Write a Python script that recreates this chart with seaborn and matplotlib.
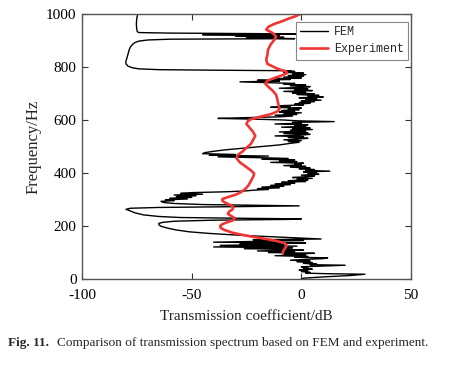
import matplotlib
matplotlib.use("Agg")
import matplotlib.pyplot as plt
import seaborn as sns

# FEM simulation: frequency (Hz) vs transmission coefficient (dB)
fem_freq = [0, 3, 8, 13, 18, 20, 22, 25, 28, 31, 34, 37, 40, 43, 46, 49, 52, 54, 56, 59,
            62, 65, 68, 71, 74, 77, 80, 82, 85, 88, 91, 94, 97, 100, 103, 106, 109, 112, 115, 118,
            121, 124, 127, 130, 133, 136, 139, 142, 145, 148, 151,
            155, 160, 166, 172, 178, 185, 192, 199, 205, 210, 214, 218, 222, 225, 227, 229, 232, 236, 242,
            250, 257, 263, 267, 270, 273, 276, 278, 281, 285, 289, 293, 296, 299, 302, 305, 308, 311, 314, 317,
            320, 323, 326, 329, 332, 335, 338, 341, 344, 347, 350, 353, 356, 359, 362, 365, 368, 371, 374, 377,
            380, 383, 386, 389, 392, 395, 398, 401, 404, 407, 410, 413, 416, 419, 422, 425, 428, 431, 434, 437,
            440, 443, 446, 449, 452, 455, 458, 461, 464, 467, 470, 473, 477, 482, 488, 494, 500, 506, 512, 516,
            519, 522, 525, 528, 531, 534, 537, 540, 543, 546, 549, 552, 555, 558, 561, 564, 567, 570, 573, 576,
            579, 582, 585, 588, 591, 594, 597, 600, 603, 606, 609, 612, 615, 618, 621, 624, 627, 630, 633, 636,
            639, 642, 645, 648, 651, 654, 657, 660, 663, 666, 669, 672, 675, 678, 681, 684, 687, 690, 693, 696,
            699, 702, 705, 708, 711, 714, 717, 720, 723, 726, 729, 732, 735, 738, 741, 744, 747, 750, 753, 756,
            759, 762, 765, 768, 771, 774, 777, 780, 783, 786, 788, 790, 793, 797, 803, 812, 822, 835, 850, 865,
            875, 885, 892, 898, 902, 905, 906, 907, 910, 913, 916, 919, 922, 924, 926, 928, 930, 933, 940, 955,
            970, 985, 1000]
fem_db = [0, 1, 10, 22, 29, 12, 2, 4, 0, 3, -1, 5, 1, 3, 0, 10, 20, 4, 7, 1,
          5, -2, 4, -5, 2, 10, 12, -3, 3, -12, 2, -8, 6, -15, -3, -20, 1, -10, -26, -4,
          -40, -2, -37, -8, -28, 2, -40, -18, 1, -22, 9,
          -2, -15, -30, -42, -51, -57, -61, -64, -65, -65, -63, -58, -40, -5, 0, -25, -55, -65, -72,
          -76, -78, -80, -78, -65, -30, -1, -20, -45, -58, -63, -64, -58, -62, -52, -60, -50, -57, -48, -58,
          -45, -55, -50, -35, -26, -22, -15, -20, -10, -18, -8, -14, -5, -12, -3, -9, 2, -6, 3, -2,
          5, -4, 2, 6, 0, 8, 3, 7, 1, 13, 2, 6, -1, 4, -5, 2, -8, 0, -3, 1,
          -14, -2, -10, -3, -18, -6, -20, -38, -15, -42, -30, -45, -44, -40, -34, -26, -18, -10, -5, -1,
          -6, 0, -8, -2, 3, -6, 1, -12, 0, 4, -8, 3, -10, 2, -5, 5, -4, 4, -9, 2,
          -3, 3, -12, 0, -4, 15, -2, -8, -20, -38, -25, -10, -4, -12, -2, -8, 0, -10, -3, -9,
          -1, -6, 0, -14, -5, -10, 1, -3, 4, -1, 6, 0, 9, 2, 7, -1, 10, 3, 8, -2,
          6, -4, 2, -8, 5, -3, 3, -10, 0, 4, -5, 2, -8, -3, -15, -28, -10, -20, -5, -12,
          0, -8, 1, -6, 2, -4, 1, -8, -3, -5, -40, -65, -74, -77, -79, -80, -80, -79.5, -79, -78.5,
          -78, -77, -76, -74, -70, -60, -30, -3, -25, -8, -30, -10, -45, 2, -20, -60, -74, -74.8, -75, -75.2,
          -75.2, -75, -74.6]

# Experiment: frequency (Hz) vs transmission coefficient (dB)
exp_freq = [97, 105, 115, 122, 128, 135, 145, 155, 165, 175, 185, 193, 200, 207, 215, 222, 230, 238, 246, 254,
            262, 270, 278, 287, 295, 302, 309, 318, 328, 340, 355, 370, 385, 398, 410, 425, 440, 455, 468, 480,
            495, 510, 525, 540, 555, 570, 585, 595, 603, 612, 622, 632, 642, 660, 680, 695, 710, 725, 738, 748,
            758, 768, 777, 784, 792, 802, 812, 828, 845, 865, 885, 903, 915, 928, 941, 952, 962, 972, 982, 992,
            1000]
exp_db = [-8.5, -8.3, -7.5, -6.9, -6.8, -7.5, -12, -19, -26, -31.5, -35, -36.8, -37, -36, -33.5, -31, -30.5, -32, -33.5, -33,
          -31.5, -31, -32, -34.5, -36, -36, -33.5, -30, -27.5, -25.5, -24, -23, -22, -21.5, -23, -25.5, -28, -29.5, -29, -27,
          -25, -23, -22, -21, -22, -23.5, -25, -24.5, -23, -19, -14, -11, -10, -10.5, -11, -11.5, -13, -15, -16.5, -15.5,
          -12.5, -9, -6.5, -7, -10.5, -13, -15.5, -16, -15.5, -15.2, -14, -12.3, -11.5, -13, -16, -15, -12.5, -9, -6, -2.5,
          -0.5]

sns.set_style("ticks")
plt.rcParams["font.family"] = ["Liberation Serif", "DejaVu Serif"]
plt.rcParams["axes.unicode_minus"] = False

fig = plt.figure(figsize=(4.61, 3.65), dpi=100)
ax = fig.add_axes([0.178, 0.2356, 0.7135, 0.726])

sns.lineplot(x=fem_db, y=fem_freq, sort=False, estimator=None, color="black",
             linewidth=1.0, label="FEM", ax=ax)
sns.lineplot(x=exp_db, y=exp_freq, sort=False, estimator=None, color="#f03535",
             linewidth=1.9, label="Experiment", ax=ax)

ax.set_xlim(-100, 50)
ax.set_ylim(0, 1000)
ax.set_xticks([-100, -50, 0, 50])
ax.set_yticks([0, 200, 400, 600, 800, 1000])
ax.tick_params(direction="in", length=4, width=0.8, colors="#333333", labelsize=11,
               top=True, right=True, labelcolor="black")
ax.tick_params(axis="y", pad=4)
ax.tick_params(axis="x", pad=7)
for s in ax.spines.values():
    s.set_color("#555555")
    s.set_linewidth(1.0)

ax.set_xlabel("Transmission coefficient/dB", fontsize=11, labelpad=6)
ax.set_ylabel("Frequency/Hz", fontsize=12, labelpad=3)

leg = ax.legend(loc="upper right", bbox_to_anchor=(0.992, 0.97), borderaxespad=0,
                fancybox=False, framealpha=1, edgecolor="#888888",
                prop={"family": "Liberation Mono", "size": 8.5},
                handlelength=2.4, handletextpad=0.5, borderpad=0.35, labelspacing=0.45)
leg.get_frame().set_linewidth(0.8)

fig.text(0.017, 0.06, "Fig. 11.", fontsize=9.5, fontweight="bold", va="center",
         family=["Liberation Serif", "DejaVu Serif"])
fig.text(0.124, 0.06, "Comparison of transmission spectrum based on FEM and experiment.",
         fontsize=9.5, va="center", family=["Liberation Serif", "DejaVu Serif"])

fig.savefig("out.png", dpi=100)
